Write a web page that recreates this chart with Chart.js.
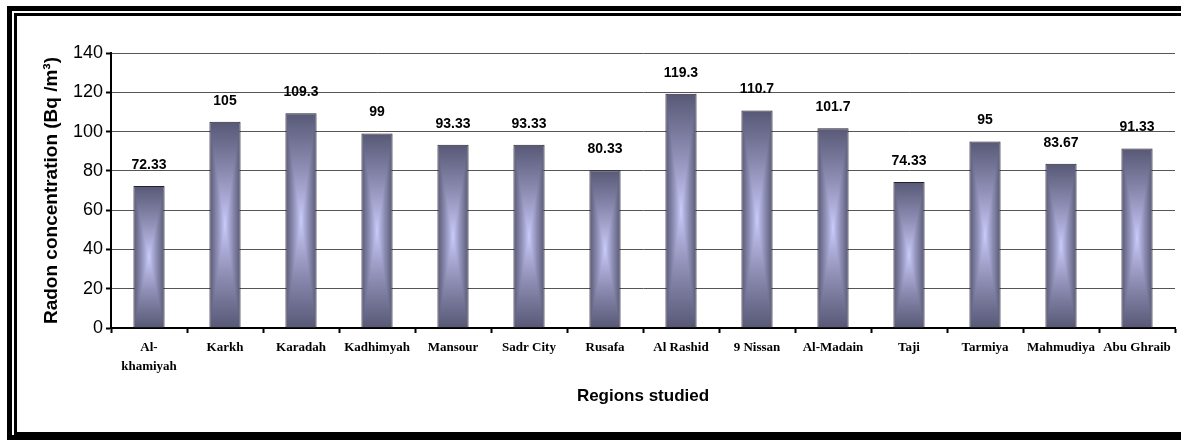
<!DOCTYPE html>
<html>
<head>
<meta charset="utf-8">
<script src="https://cdn.jsdelivr.net/npm/chart.js@4/dist/chart.umd.min.js"></script>
<style>
	html, body { margin: 0; padding: 0; background: #fff; overflow: hidden; }
	.frame-outer { position: absolute; left: 7px; top: 6px; width: 1300px; height: 434px; box-sizing: border-box; border: 5px solid #000; border-right: none; }
	.frame-inner { position: absolute; left: 14px; top: 13px; width: 1300px; height: 422px; box-sizing: border-box; border: 3px solid #000; border-right: none; }
	#wrap { position: absolute; left: 0; top: 0; width: 1181px; height: 441px; }
</style>
</head>
<body>
<div class="frame-outer"></div>
<div class="frame-inner"></div>
<div id="wrap"><canvas id="chart" width="1181" height="441"></canvas></div>
<script>
const categories = [['Al-', 'khamiyah'], 'Karkh', 'Karadah', 'Kadhimyah', 'Mansour', 'Sadr City', 'Rusafa',
	'Al Rashid', '9 Nissan', 'Al-Madain', 'Taji', 'Tarmiya', 'Mahmudiya', 'Abu Ghraib'];
const radon = [72.33, 105, 109.3, 99, 93.33, 93.33, 80.33, 119.3, 110.7, 101.7, 74.33, 95, 83.67, 91.33];
const yTicks = [0, 20, 40, 60, 80, 100, 120, 140];

const BAR_PCT = 0.41;
const EDGE = [88, 88, 118];
const CENTER = [206, 206, 255];

// rectangular "from center" shading, like the old office charts
function barFill(context) {
	const chart = context.chart;
	const xs = chart.scales.x;
	const ys = chart.scales.y;
	if (!xs || !ys || context.type !== 'data' || !xs.width) {
		return 'rgb(' + EDGE.join(',') + ')';
	}
	const cx = xs.getPixelForValue(context.dataIndex);
	const w = Math.max(2, Math.round(xs.width / categories.length * BAR_PCT));
	const top = ys.getPixelForValue(context.raw);
	const base = ys.getPixelForValue(0);
	const h = Math.max(2, Math.round(base - top));
	const off = document.createElement('canvas');
	off.width = w;
	off.height = h;
	const octx = off.getContext('2d');
	const img = octx.createImageData(w, h);
	const hw = w / 2, hh = h / 2;
	for (let j = 0; j < h; j++) {
		for (let i = 0; i < w; i++) {
			const dx = Math.abs(i + 0.5 - hw) / hw;
			const dy = Math.abs(j + 0.5 - hh) / hh;
			const t = Math.pow(Math.max(dx, dy), 0.85);
			const k = (j * w + i) * 4;
			img.data[k] = CENTER[0] + (EDGE[0] - CENTER[0]) * t;
			img.data[k + 1] = CENTER[1] + (EDGE[1] - CENTER[1]) * t;
			img.data[k + 2] = CENTER[2] + (EDGE[2] - CENTER[2]) * t;
			img.data[k + 3] = 255;
		}
	}
	octx.putImageData(img, 0, 0);
	const pat = chart.ctx.createPattern(off, 'no-repeat');
	pat.setTransform(new DOMMatrix([1, 0, 0, 1, cx - w / 2, top]));
	return pat;
}

const valueLabels = {
	id: 'valueLabels',
	afterDatasetsDraw(chart) {
		const ctx = chart.ctx;
		const meta = chart.getDatasetMeta(0);
		ctx.save();
		ctx.font = 'bold 14px "Liberation Sans", Arial, sans-serif';
		ctx.fillStyle = '#000';
		ctx.textAlign = 'center';
		ctx.textBaseline = 'bottom';
		meta.data.forEach(function(bar, i) {
			ctx.fillText(String(radon[i]), bar.x, bar.y - 14);
		});
		ctx.restore();
	}
};

new Chart(document.getElementById('chart'), {
	type: 'bar',
	data: {
		labels: categories,
		datasets: [{
			data: radon,
			backgroundColor: barFill,
			borderColor: '#22222e',
			borderWidth: 1,
			barPercentage: BAR_PCT,
			categoryPercentage: 1
		}]
	},
	options: {
		responsive: false,
		animation: false,
		events: [],
		layout: { padding: { left: 0, top: 53, right: 6, bottom: 0 } },
		plugins: {
			legend: { display: false },
			tooltip: { enabled: false }
		},
		scales: {
			x: {
				offset: true,
				afterFit: function(axis) { axis.height = 113; },
				grid: { display: true, drawOnChartArea: false, drawTicks: true, tickLength: 5, tickColor: '#000', tickWidth: 2 },
				border: { display: true, color: '#000', width: 2 },
				ticks: {
					color: '#000',
					padding: 5,
					maxRotation: 0,
					autoSkip: false,
					font: { family: '"Liberation Serif", "Times New Roman", serif', size: 13, weight: 'bold', lineHeight: 1.46 }
				},
				title: {
					display: true,
					text: 'Regions studied',
					color: '#000',
					font: { family: '"Liberation Sans", Arial, sans-serif', size: 17, weight: 'bold' },
					padding: { top: 0, bottom: 34 }
				}
			},
			y: {
				min: 0,
				max: 140,
				afterFit: function(axis) { axis.width = 111; },
				afterBuildTicks: function(axis) { axis.ticks = yTicks.map(function(v) { return { value: v }; }); },
				grid: { color: '#555', lineWidth: 1, tickLength: 5, tickColor: '#000', tickWidth: 2 },
				border: { display: true, color: '#000', width: 2 },
				ticks: {
					color: '#000',
					padding: 3,
					font: { family: '"Liberation Sans", Arial, sans-serif', size: 18 }
				},
				title: {
					display: true,
					text: 'Radon concentration (Bq /m³)',
					color: '#000',
					font: { family: '"Liberation Sans", Arial, sans-serif', size: 19, weight: 'bold' },
					padding: { top: 40, bottom: 0 }
				}
			}
		}
	},
	plugins: [valueLabels]
});
</script>
</body>
</html>
